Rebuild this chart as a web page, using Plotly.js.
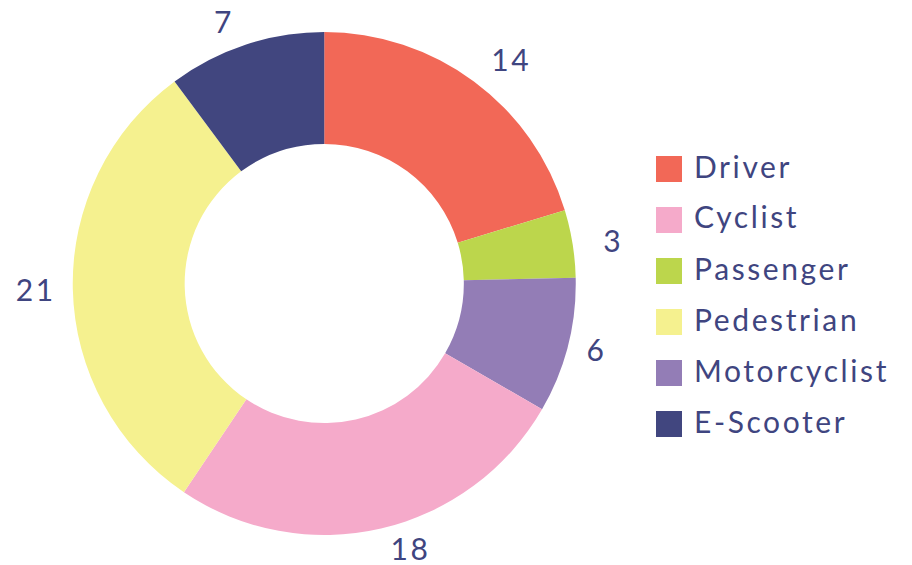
<!DOCTYPE html>
<html>
<head>
<meta charset="utf-8">
<script src="https://cdn.plot.ly/plotly-3.0.1.min.js"></script>
<style>
html,body{margin:0;padding:0;background:#fff;}
#chart{width:912px;height:565px;}
svg text{letter-spacing:2.6px;}
</style>
</head>
<body>
<div id="chart"></div>
<script>
// Slice order (clockwise from 12 o'clock)
var sliceLabels = ['Driver', 'Passenger', 'Motorcyclist', 'Cyclist', 'Pedestrian', 'E-Scooter'];
var sliceValues = [14, 3, 6, 18, 21, 7];
var sliceColors = ['#F26857', '#BCD64C', '#937DB6', '#F5AACA', '#F5F18F', '#41467F'];

// Legend order as shown in the reference
var legendLabels = ['Driver', 'Cyclist', 'Passenger', 'Pedestrian', 'Motorcyclist', 'E-Scooter'];

var W = 912, H = 565;
var textColor = '#3F4580';
var fontFamily = 'Lato, "Open Sans", sans-serif';
var fontSize = 30;

function colorOf(name) { return sliceColors[sliceLabels.indexOf(name)]; }

var cx = 324.25, cy = 283.5, R = 251.5;
function domainFor(r) {
  return { x: [(cx - r) / W, (cx + r) / W], y: [1 - (cy + r) / H, 1 - (cy - r) / H] };
}

var ring = {
  type: 'pie',
  labels: sliceLabels,
  values: sliceValues,
  sort: false,
  direction: 'clockwise',
  rotation: 0,
  hole: 0.555,
  marker: { colors: sliceColors, line: { width: 0 } },
  textinfo: 'none',
  showlegend: false,
  hoverinfo: 'label+value',
  domain: domainFor(R)
};

// Extra radial gap (px) for each value label, in slice order
var labelGapPx = [14, 22, 10, 2, 8, 8];
var labelPull = labelGapPx.map(function (g) { return g / R; });
var maxPull = Math.max.apply(null, labelPull);

var valueLabels = {
  type: 'pie',
  labels: sliceLabels,
  values: sliceValues,
  sort: false,
  direction: 'clockwise',
  rotation: 0,
  hole: 0.95,
  pull: labelPull,
  marker: { colors: sliceLabels.map(function () { return 'rgba(0,0,0,0)'; }), line: { width: 0 } },
  textinfo: 'value',
  textposition: 'outside',
  outsidetextfont: { family: fontFamily, size: fontSize, color: textColor },
  showlegend: false,
  hoverinfo: 'skip',
  domain: domainFor(R * (1 + maxPull))
};

var shapes = [], annotations = [];
var rowTop = 156, rowStep = 51, box = 26, boxX = 656, textX = 692;
legendLabels.forEach(function (name, i) {
  var top = rowTop + i * rowStep;
  shapes.push({
    type: 'rect', xref: 'paper', yref: 'paper',
    x0: boxX / W, x1: (boxX + box) / W,
    y0: 1 - (top + box) / H, y1: 1 - top / H,
    fillcolor: colorOf(name), line: { width: 0 }
  });
  annotations.push({
    xref: 'paper', yref: 'paper',
    x: textX / W, y: 1 - (top + box / 2 - 3.5) / H,
    xanchor: 'left', yanchor: 'middle',
    text: name, showarrow: false,
    font: { family: fontFamily, size: fontSize, color: textColor }
  });
});

var layout = {
  width: W, height: H,
  margin: { l: 0, r: 0, t: 0, b: 0 },
  paper_bgcolor: '#ffffff',
  showlegend: false,
  shapes: shapes,
  annotations: annotations
};

Plotly.newPlot('chart', [ring, valueLabels], layout, { displayModeBar: false, staticPlot: true });
</script>
</body>
</html>
